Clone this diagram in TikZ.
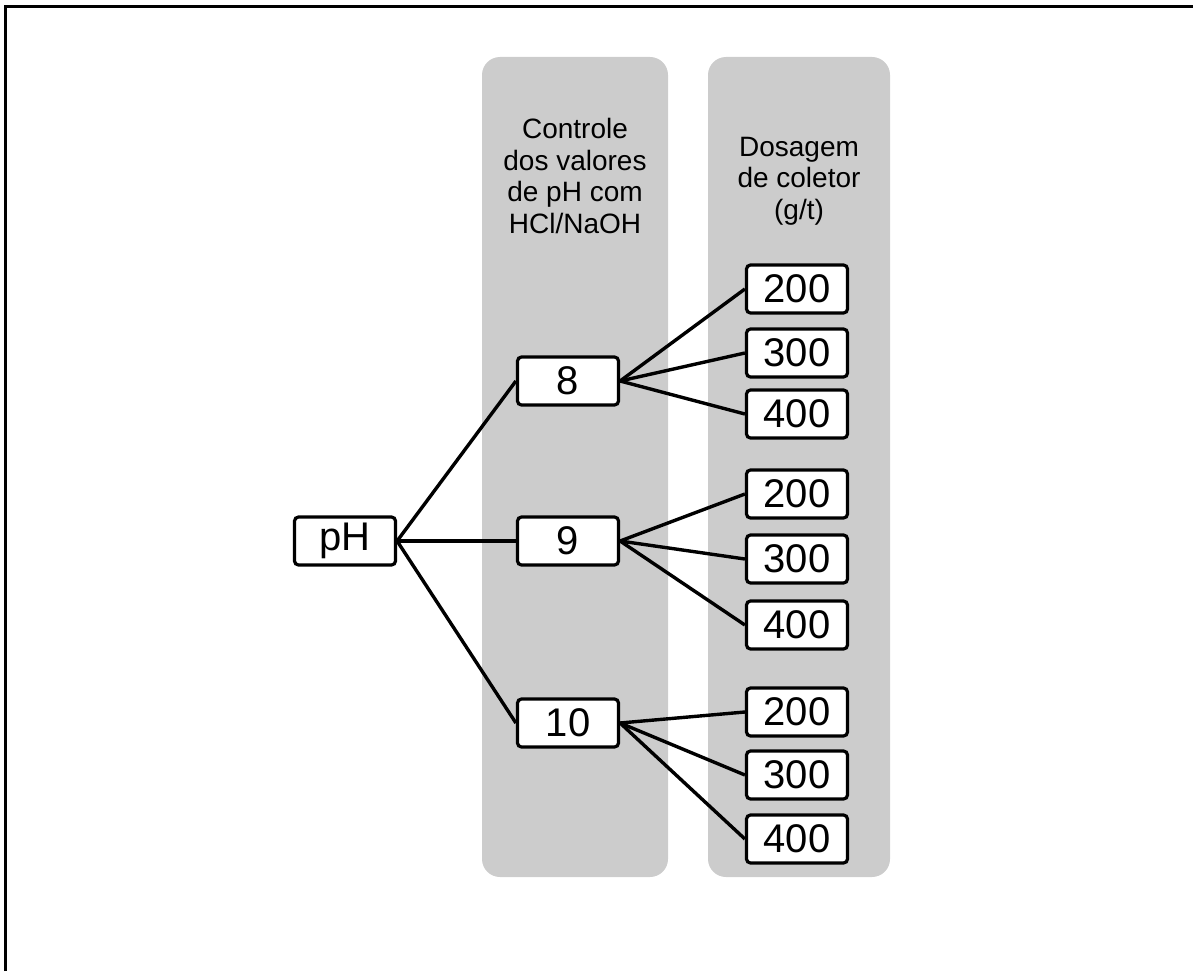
\documentclass[tikz,border=0pt]{standalone}
\usepackage{fontspec}
\setmainfont{Liberation Sans}
\usepackage{tikz}
\usetikzlibrary{positioning}
\definecolor{cinza}{HTML}{CCCCCC}

\tikzset{
  caixa/.style={draw,line width=3.2pt,rounded corners=4pt,fill=white,
    minimum width=101pt,minimum height=48pt,inner sep=0pt,
    font=\fontsize{40}{42}\selectfont},
  coluna/.style={fill=cinza,rounded corners=18pt},
  ligacao/.style={line width=3.4pt},
  titulo/.style={align=center,font=\fontsize{28}{31.5}\selectfont}
}

\begin{document}
\begin{tikzpicture}[x=1pt,y=-1pt]
			\useasboundingbox (0,0) rectangle (1193,971);
			\draw[line width=3pt] (5,971) -- (5,7) -- (1193,7);
			
			% colunas de fundo
			\fill[coluna] (482,57) rectangle (668,877);
			\fill[coluna] (708,57) rectangle (890,877);
			\node[titulo] (tit1) at (575,176) {Controle\\dos valores\\de pH com\\HCl/NaOH};
			\node[titulo] (tit2) at (799,181) {Dosagem\\de coletor\\(g/t)};
			
			\node[caixa] (ph) at (345,541) {pH};
			
			% valores de pH e dosagens
			\foreach \p/\yp/\ya/\yb/\yc in {8/381/289/353/414, 9/541/494/559/625, 10/723/712/775/839} {
				\node[caixa] (p\p) at (568,\yp) {\p};
				\node[caixa] (d\p a) at (797,\ya) {200};
				\node[caixa] (d\p b) at (797,\yb) {300};
				\node[caixa] (d\p c) at (797,\yc) {400};
				\draw[ligacao] (ph.east) -- (p\p.west);
				\foreach \s in {a,b,c}
				\draw[ligacao] (p\p.east) -- (d\p\s.west);
			}
		\end{tikzpicture}
\end{document}
